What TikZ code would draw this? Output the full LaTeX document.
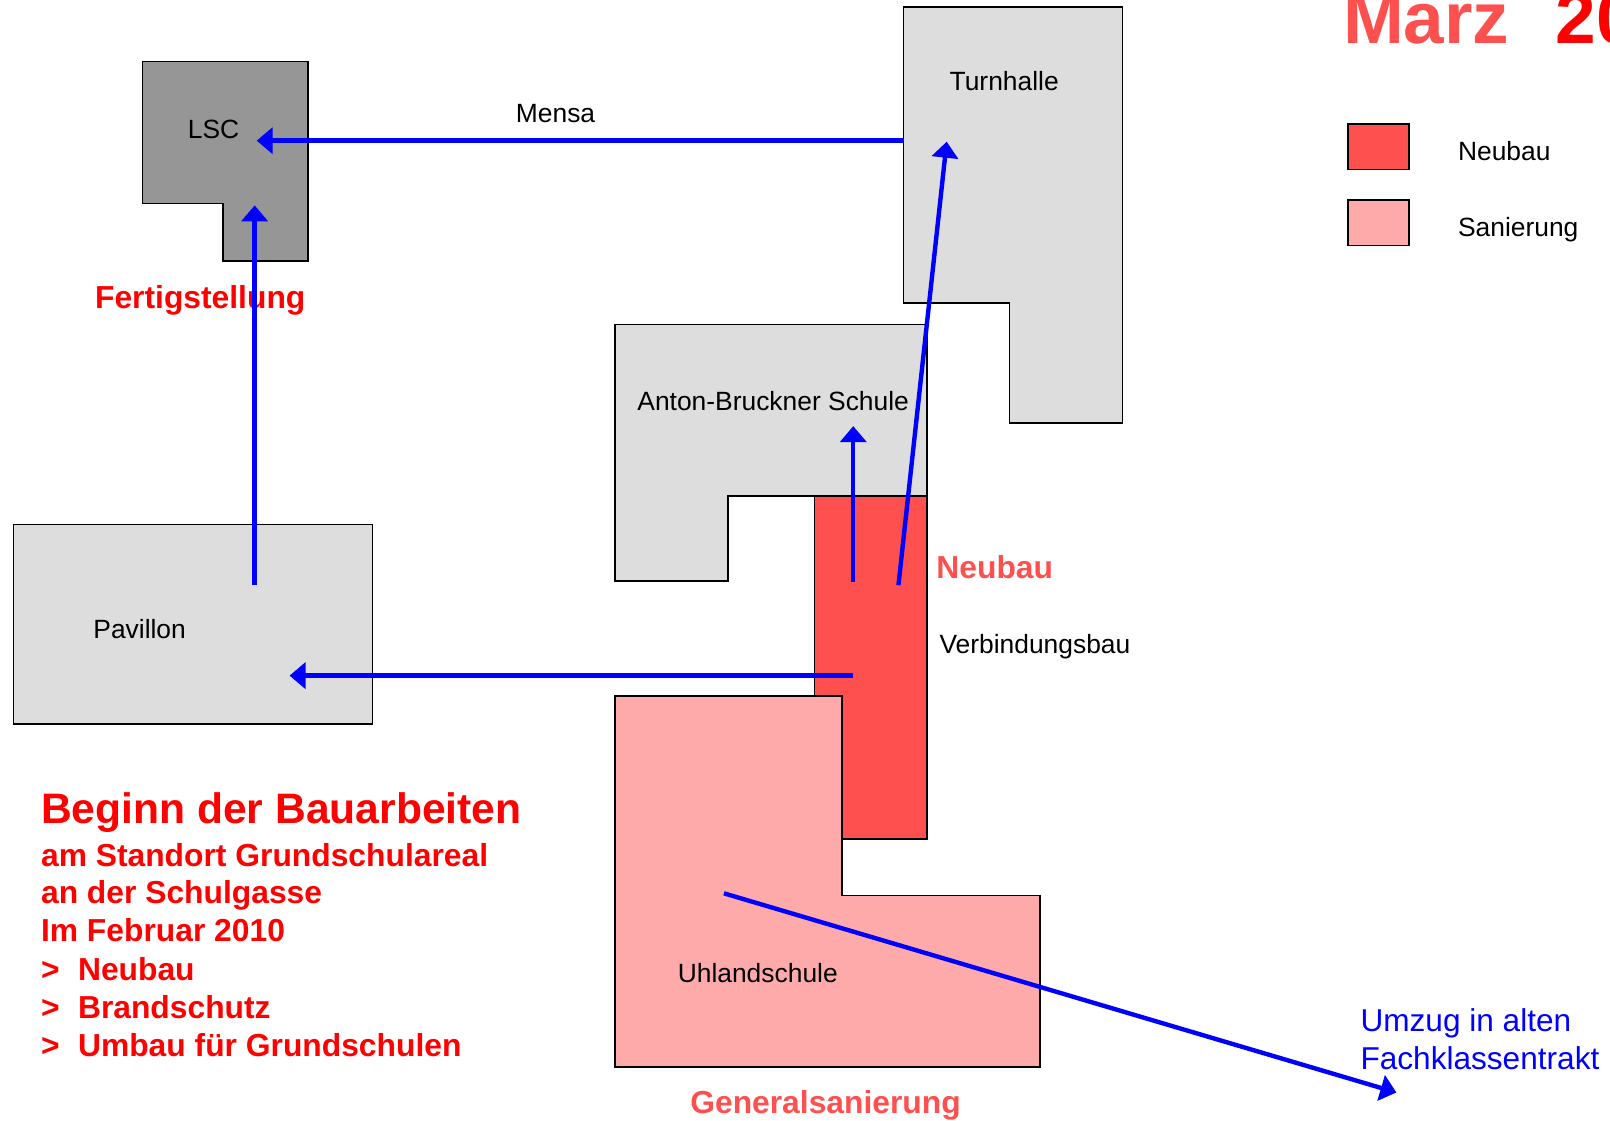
\documentclass[tikz,border=0pt]{standalone}
\usepackage{fontspec}
\setmainfont{Liberation Sans}
\usetikzlibrary{arrows.meta}
\definecolor{old colour}{RGB}{221,221,221}
\definecolor{lsc colour}{RGB}{150,150,150}
\definecolor{new colour}{RGB}{255,80,80}
\definecolor{renovation colour}{RGB}{255,170,170}
\colorlet{move colour}{blue}
\colorlet{note colour}{red}
\tikzset{
    % Filled triangle tips for the moves
    >={Triangle[length=8pt,width=13pt]},
%
    % Fills of the buildings
    old fill/.style={fill=old colour},
    lsc fill/.style={fill=lsc colour},
    new fill/.style={fill=new colour},
    renovation fill/.style={fill=renovation colour},
    % Outline of every building
    building/.style={draw=black, line width=0.75pt},
    % Moves between the buildings
    move/.style={color=move colour, line width=2.2pt, ->},
%
    % Text sits exactly where it is placed
    every node/.style={inner sep=0, outer sep=0},
}

\begin{document}
\begin{tikzpicture}[
    x=0.5134pt, y=-0.5134pt,
    bldg label/.style={font=\fontsize{13.2}{15}\selectfont},
    stage label/.style={font=\bfseries\fontsize{15.9}{19}\selectfont},
    heading/.style={font=\bfseries\fontsize{21.3}{24}\selectfont, note colour},
    body/.style={stage label, note colour, anchor=base west},
    move note/.style={font=\fontsize{15.8}{19}\selectfont, move colour, align=left},
    ]

% This path fixes the page and cuts the title off like the original.
\clip (0,0) rectangle (1568,1091);

% Turnhalle
\draw [building, old fill] (880,7) -- (1093,7) -- (1093,412) -- (983,412)
    -- (983,295) -- (880,295) -- cycle;
\node [bldg label, anchor=base] (turnhalle) at (978,88) {Turnhalle};

% LSC
\draw [building, lsc fill] (139,60) -- (300,60) -- (300,254) -- (217,254)
    -- (217,198) -- (139,198) -- cycle;
\node [bldg label, anchor=base] (lsc) at (208,135) {LSC};
\node [stage label, note colour, anchor=base] (fertig) at (195,300) {Fertigstellung};

% Anton-Bruckner Schule
\draw [building, old fill] (599,316) -- (903,316) -- (903,483) -- (709,483)
    -- (709,566) -- (599,566) -- cycle;
\node [bldg label, anchor=base] (abs) at (753,400) {Anton-Bruckner Schule};

% Verbindungsbau, then Uhlandschule over it
\draw [building, new fill] (793,483) rectangle (903,817);
\node [stage label, new colour, anchor=base west] (neubau) at (912,563) {Neubau};
\node [bldg label, anchor=base west] (verb) at (915,636) {Verbindungsbau};

\draw [building, renovation fill] (599,678) -- (820,678) -- (820,872) -- (1013,872)
    -- (1013,1039) -- (599,1039) -- cycle;
\node [bldg label, anchor=base] (uhland) at (738,957) {Uhlandschule};
\node [stage label, new colour, anchor=base] (general) at (804,1084) {Generalsanierung};

% Pavillon
\draw [building, old fill] (13,511) rectangle (363,705);
\node [bldg label, anchor=base] (pavillon) at (136,622) {Pavillon};

% Legend
\draw [building, new fill] (1313,121) rectangle (1372,165);
\node [bldg label, anchor=base west] (key new) at (1420,156) {Neubau};
\draw [building, renovation fill] (1313,195) rectangle (1372,239);
\node [bldg label, anchor=base west] (key old) at (1420,230) {Sanierung};

% Title
\node [font=\bfseries\fontsize{36.5}{40}\selectfont, new colour, anchor=base west]
    (month) at (1308,42) {Marz};
\node [font=\bfseries\fontsize{36.5}{40}\selectfont, note colour, anchor=base west]
    (year) at (1515,42) {20};

% Notes on the works
\node [heading, anchor=base west] (start) at (40,802) {Beginn der Bauarbeiten};
\foreach \y/\t in {844/am Standort Grundschulareal, 880/an der Schulgasse,
        917/Im Februar 2010} {
    \node [body] (line \y) at (40,\y) {\t}; }
\foreach \y/\t in {955/Neubau, 992/Brandschutz, 1029/Umbau für Grundschulen} {
    \node [body] (item \y) at (40,\y) {\makebox[18.5pt][l]{>}\t}; }

% base of a two line node is its last line
\node [move note, anchor=base west] (umzug) at (1325,1042)
    {Umzug in alten\\Fachklassentrakt};

% Ends of the moves
\coordinate (turnhalle west) at (880,137);
\coordinate (lsc in) at (250,137);
\coordinate (pavillon out) at (248,570);
\coordinate (lsc south) at (248,200);
\coordinate (verb a) at (831,567);
\coordinate (abs in) at (831,415);
\coordinate (verb b) at (875,570);
\coordinate (turnhalle in) at (922,138);
\coordinate (verb c) at (831,658);
\coordinate (pavillon in) at (282,658);
\coordinate (uhland out) at (705,870);
\coordinate (fach) at (1360,1064);

% Moves
\draw [move] (turnhalle west) -- (lsc in)
    node [bldg label, black, pos=0.538, above=9pt] (mensa) {Mensa};
\draw [move] (pavillon out) -- (lsc south);
\draw [move] (verb a) -- (abs in);
\draw [move] (verb b) -- (turnhalle in);
\draw [move] (verb c) -- (pavillon in);
\draw [move] (uhland out) -- (fach);

\end{tikzpicture}
\end{document}
